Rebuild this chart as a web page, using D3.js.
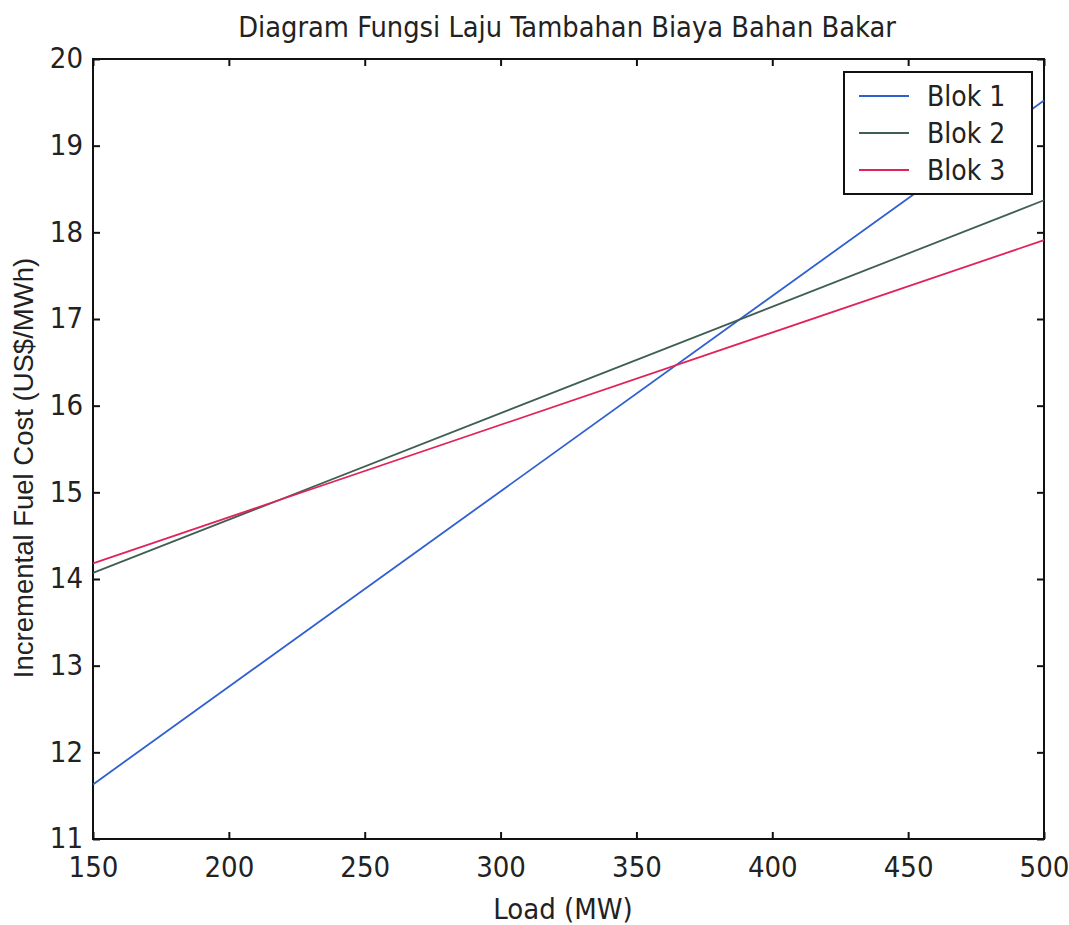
<!DOCTYPE html>
<html lang="en">
<head>
	<meta charset="utf-8">
	<title>Diagram Fungsi Laju Tambahan Biaya Bahan Bakar</title>
	<script src="https://cdn.jsdelivr.net/npm/d3@7"></script>
	<style>
		body {
			margin: 0;
			background: #fff;
		}
		text {
			font-family: "Liberation Sans Narrow", "DejaVu Sans Condensed", "Liberation Sans", sans-serif;
			fill: #222;
		}
		.ylabel {
			font-family: "Liberation Sans", Arial, sans-serif;
		}
	</style>
</head>
<body>
	<script>
		// Data: incremental cost lines (endpoints at 150 and 500 MW)
		var loads = [150, 500];
		var blok1 = [11.63, 19.52];
		var blok2 = [14.07, 18.37];
		var blok3 = [14.18, 17.91];
		var seriesNames = ["Blok 1", "Blok 2", "Blok 3"];
		var seriesColors = ["#2f5fd0", "#3f5f55", "#e0245a"];
		var xTicks = [150, 200, 250, 300, 350, 400, 450, 500];
		var yTicks = [11, 12, 13, 14, 15, 16, 17, 18, 19, 20];

		var width = 1069;
		var height = 925;
		var margin = { top: 59, right: 25, bottom: 86, left: 93 };
		var plotW = width - margin.left - margin.right;
		var plotH = height - margin.top - margin.bottom;

		var svg = d3.select( "body" )
			.append( "svg" )
			.attr( "width", width )
			.attr( "height", height );

		var x = d3.scaleLinear().domain( [150, 500] ).range( [0, plotW] );
		var y = d3.scaleLinear().domain( [11, 20] ).range( [plotH, 0] );

		var g = svg.append( "g" )
			.attr( "transform", "translate(" + margin.left + "," + margin.top + ")" );

		// inward ticks on all four sides, matlab style
		function styleAxis( sel ) {
			sel.select( ".domain" ).remove();
			sel.selectAll( "line" ).attr( "stroke", "#111" ).attr( "stroke-width", 2 );
			sel.selectAll( "text" ).attr( "font-size", 29 ).attr( "fill", "#222" )
				.attr( "font-family", "'Liberation Sans Narrow', 'DejaVu Sans Condensed', sans-serif" );
		}

		g.append( "g" )
			.attr( "transform", "translate(0," + plotH + ")" )
			.call( d3.axisBottom( x ).tickValues( xTicks ).tickSize( -7 ).tickPadding( 15 ).tickFormat( d3.format( "d" ) ) )
			.call( styleAxis )
			.selectAll( "text" ).attr( "dy", "0.8em" );

		g.append( "g" )
			.call( d3.axisTop( x ).tickValues( xTicks ).tickSize( -7 ).tickFormat( "" ) )
			.call( styleAxis );

		g.append( "g" )
			.call( d3.axisLeft( y ).tickValues( yTicks ).tickSize( -7 ).tickPadding( 10 ).tickFormat( d3.format( "d" ) ) )
			.call( styleAxis )
			.selectAll( "text" ).attr( "dy", "0.3em" );

		g.append( "g" )
			.attr( "transform", "translate(" + plotW + ",0)" )
			.call( d3.axisRight( y ).tickValues( yTicks ).tickSize( -7 ).tickFormat( "" ) )
			.call( styleAxis );

		// frame
		g.append( "rect" )
			.attr( "width", plotW )
			.attr( "height", plotH )
			.attr( "fill", "none" )
			.attr( "stroke", "#111" )
			.attr( "stroke-width", 2 );

		var line = d3.line()
			.x( function( d ) { return x( d[0] ); } )
			.y( function( d ) { return y( d[1] ); } );

		var allSeries = [blok1, blok2, blok3];

		g.selectAll( ".series" )
			.data( allSeries )
			.enter()
			.append( "path" )
			.attr( "class", "series" )
			.attr( "fill", "none" )
			.attr( "stroke", function( d, i ) { return seriesColors[i]; } )
			.attr( "stroke-width", 1.8 )
			.attr( "d", function( d ) { return line( loads.map( function( l, i ) { return [l, d[i]]; } ) ); } );

		// legend
		var legend = svg.append( "g" ).attr( "transform", "translate(844,72)" );
		legend.append( "rect" )
			.attr( "width", 188 )
			.attr( "height", 122 )
			.attr( "fill", "#fff" )
			.attr( "stroke", "#111" )
			.attr( "stroke-width", 2 );

		var items = legend.selectAll( ".item" )
			.data( seriesNames )
			.enter()
			.append( "g" )
			.attr( "transform", function( d, i ) { return "translate(0," + ( 24 + i * 37 ) + ")"; } );

		items.append( "line" )
			.attr( "x1", 15 ).attr( "x2", 65 )
			.attr( "stroke", function( d, i ) { return seriesColors[i]; } )
			.attr( "stroke-width", 1.8 );

		items.append( "text" )
			.attr( "x", 83 )
			.attr( "dy", "0.36em" )
			.attr( "font-size", 28 )
			.text( function( d ) { return d; } );

		// title and axis labels
		svg.append( "text" )
			.attr( "x", 567 )
			.attr( "y", 37 )
			.attr( "text-anchor", "middle" )
			.attr( "font-size", 28.7 )
			.text( "Diagram Fungsi Laju Tambahan Biaya Bahan Bakar" );

		svg.append( "text" )
			.attr( "x", 563 )
			.attr( "y", 919 )
			.attr( "text-anchor", "middle" )
			.attr( "font-size", 29 )
			.text( "Load (MW)" );

		svg.append( "text" )
			.attr( "class", "ylabel" )
			.attr( "transform", "translate(33,468) rotate(-90)" )
			.attr( "text-anchor", "middle" )
			.attr( "font-size", 27.5 )
			.text( "Incremental Fuel Cost (US$/MWh)" );
	</script>
</body>
</html>
